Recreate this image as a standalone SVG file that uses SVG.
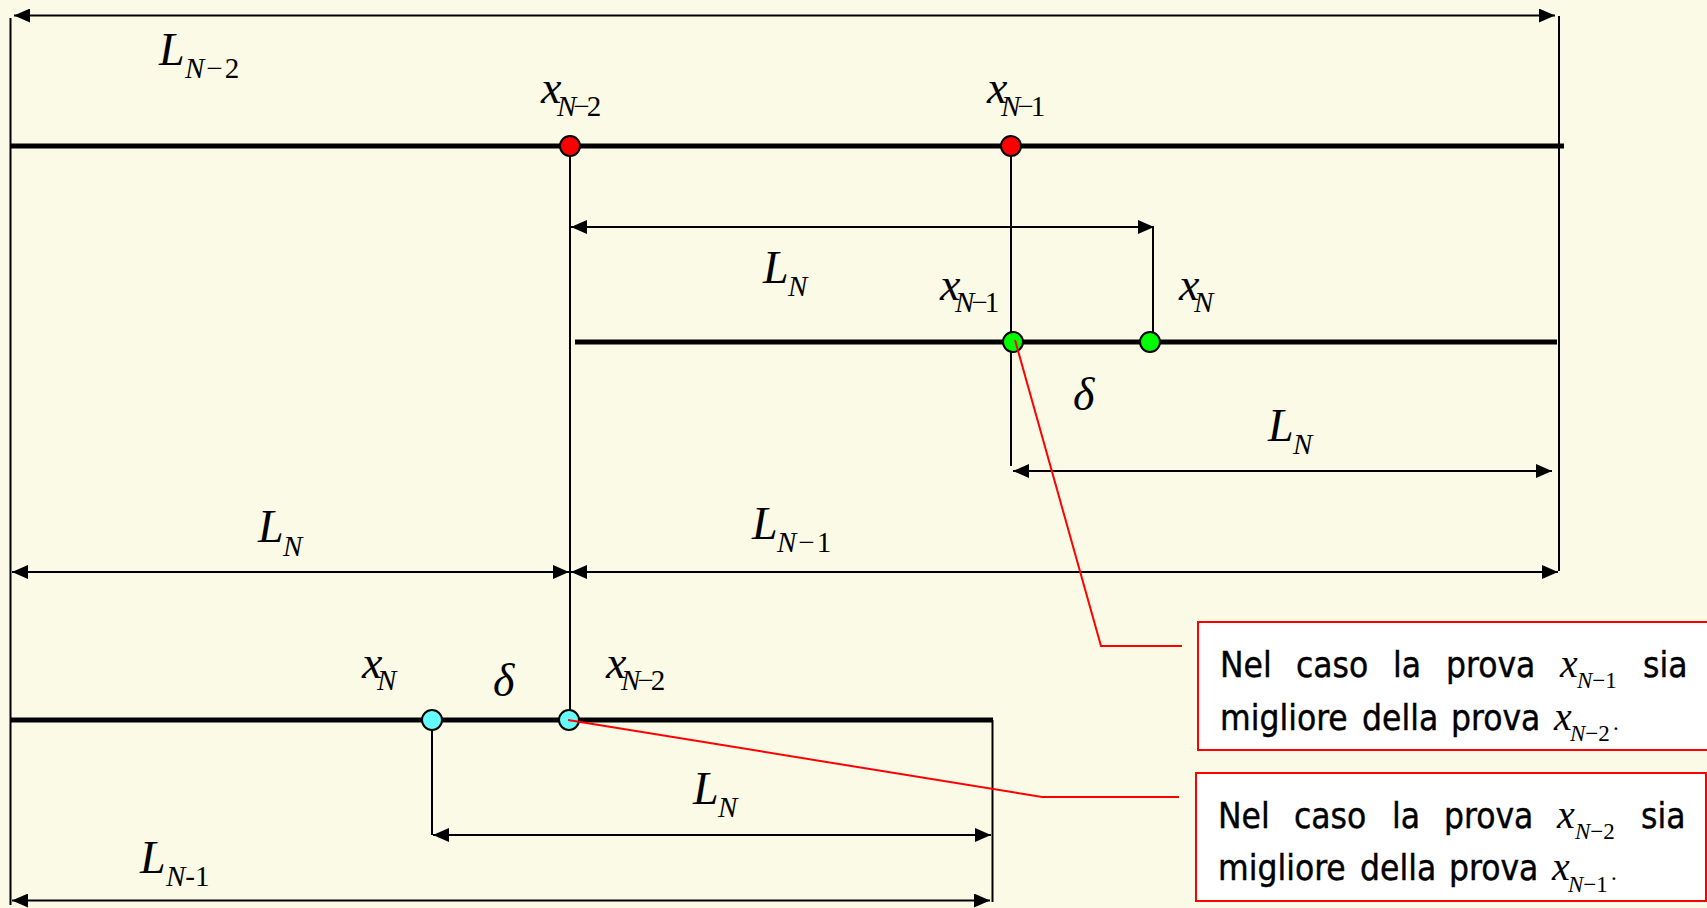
<svg xmlns="http://www.w3.org/2000/svg" width="1707" height="908" viewBox="0 0 1707 908">
<style>
.thick{stroke:#000;stroke-width:5;fill:none}
.thin{stroke:#000;stroke-width:2;fill:none}
.dim{stroke:#000;stroke-width:2;fill:none;marker-start:url(#ah);marker-end:url(#ah)}
.call{stroke:#f00;stroke-width:2;fill:none}
.box{fill:#fff;stroke:#f00;stroke-width:2}
.red{fill:#f00;stroke:#000;stroke-width:2}
.grn{fill:#0f0;stroke:#000;stroke-width:2}
.cyn{fill:#66ffff;stroke:#000;stroke-width:2}
.mi{font-family:'Liberation Serif','Times New Roman',serif;font-style:italic;font-size:46px;fill:#000}
.sb{font-style:normal;font-size:29px}
.i{font-style:italic}
.tight{letter-spacing:-3px}
.tx{font-family:'DejaVu Sans Condensed','DejaVu Sans',sans-serif;font-size:35px;fill:#000;stroke:#000;stroke-width:0.4}
.bm{font-family:'Liberation Serif','Times New Roman',serif;font-style:italic;font-size:40px;fill:#000}
.bs{font-style:normal;font-size:23px}
</style>
<defs>
<marker id="ah" viewBox="0 0 16 14" refX="16" refY="7" markerWidth="16" markerHeight="14" markerUnits="userSpaceOnUse" orient="auto-start-reverse">
<path d="M0,0 L16,7 L0,14 z" fill="#000"/>
</marker>
</defs>
<rect x="0" y="0" width="1707" height="908" fill="#fafae6"/>

<g id="connectors">
<line class="thin" x1="10.5" y1="18" x2="10.5" y2="905"/>
<line class="thin" x1="1559" y1="16" x2="1559" y2="571"/>
<line class="dim" x1="14" y1="15.5" x2="1555" y2="15.5"/>
<line class="thick" x1="10" y1="146" x2="1564" y2="146"/>
<line class="thin" x1="570" y1="146" x2="570" y2="720"/>
<line class="thin" x1="1011" y1="146" x2="1011" y2="466"/>
<line class="dim" x1="571" y1="227" x2="1154" y2="227"/>
<line class="thin" x1="1153" y1="227" x2="1153" y2="342"/>
<line class="thick" x1="575" y1="342" x2="1557" y2="342"/>
<line class="dim" x1="1013" y1="471" x2="1552" y2="471"/>
<line class="dim" x1="12" y1="572" x2="569" y2="572"/>
<line class="dim" x1="571" y1="572" x2="1558" y2="572"/>
<line class="thick" x1="10" y1="720" x2="993" y2="720"/>
<line class="thin" x1="432" y1="720" x2="432" y2="835"/>
<line class="thin" x1="992.5" y1="720" x2="992.5" y2="902"/>
<line class="dim" x1="433" y1="835" x2="991" y2="835"/>
<line class="dim" x1="12" y1="900.5" x2="990" y2="900.5"/>
</g>

<g id="labels">
<text class="mi" x="159" y="65">L<tspan class="sb" x="185" y="78" letter-spacing="2"><tspan class="i">N</tspan>−2</tspan></text>
<text class="mi" x="541" y="103">x<tspan class="sb tight" x="557" y="116"><tspan class="i">N</tspan>−2</tspan></text>
<text class="mi" x="987" y="103">x<tspan class="sb tight" x="1001" y="116"><tspan class="i">N</tspan>−1</tspan></text>
<text class="mi" x="763" y="283">L<tspan class="sb i" x="788" y="296">N</tspan></text>
<text class="mi" x="940" y="300">x<tspan class="sb tight" x="955" y="312"><tspan class="i">N</tspan>−1</tspan></text>
<text class="mi" x="1179" y="300">x<tspan class="sb i" x="1194" y="312">N</tspan></text>
<text class="mi" x="1073" y="410">δ</text>
<text class="mi" x="1268" y="441">L<tspan class="sb i" x="1293" y="454">N</tspan></text>
<text class="mi" x="258" y="542">L<tspan class="sb i" x="283" y="556">N</tspan></text>
<text class="mi" x="752" y="539">L<tspan class="sb" x="777" y="552" letter-spacing="2"><tspan class="i">N</tspan>−1</tspan></text>
<text class="mi" x="362" y="678">x<tspan class="sb i" x="377" y="690">N</tspan></text>
<text class="mi" x="493" y="696">δ</text>
<text class="mi" x="606" y="678">x<tspan class="sb tight" x="621" y="690"><tspan class="i">N</tspan>−2</tspan></text>
<text class="mi" x="693" y="804">L<tspan class="sb i" x="718" y="817">N</tspan></text>
<text class="mi" x="140" y="873">L<tspan class="sb" x="166" y="886"><tspan class="i">N</tspan>-1</tspan></text>
</g>

<g id="node-xN2-top"><circle class="red" cx="570" cy="146" r="10"/></g>
<g id="node-xN1-top"><circle class="red" cx="1011" cy="146" r="10"/></g>
<g id="node-xN1-mid"><circle class="grn" cx="1013" cy="342" r="10"/></g>
<g id="node-xN-mid"><circle class="grn" cx="1150" cy="342" r="10"/></g>
<g id="node-xN-bot"><circle class="cyn" cx="432" cy="720" r="10"/></g>
<g id="node-xN2-bot"><circle class="cyn" cx="569" cy="720" r="10"/></g>

<g id="callouts">
<polyline class="call" points="1015,340 1101,646 1182,646"/>
<polyline class="call" points="568,720 1042,797 1179,797"/>
</g>

<g id="note1">
<rect class="box" x="1198" y="622" width="520" height="128"/>
<text class="tx" x="1220" y="677">Nel</text>
<text class="tx" x="1296" y="677">caso</text>
<text class="tx" x="1393" y="677">la</text>
<text class="tx" x="1446" y="677">prova</text>
<text class="bm" x="1560" y="677">x<tspan class="bs" x="1577" y="688"><tspan class="i">N</tspan>−1</tspan></text>
<text class="tx" x="1643" y="677">sia</text>
<text class="tx" x="1220" y="730">migliore</text>
<text class="tx" x="1362" y="730">della</text>
<text class="tx" x="1451" y="730">prova</text>
<text class="bm" x="1554" y="730">x<tspan class="bs" x="1570" y="741"><tspan class="i">N</tspan>−2</tspan><tspan class="bs" x="1613" y="730">.</tspan></text>
</g>

<g id="note2">
<rect class="box" x="1196" y="773" width="510" height="128"/>
<text class="tx" x="1218" y="828">Nel</text>
<text class="tx" x="1294" y="828">caso</text>
<text class="tx" x="1392" y="828">la</text>
<text class="tx" x="1444" y="828">prova</text>
<text class="bm" x="1557" y="828">x<tspan class="bs" x="1575" y="839"><tspan class="i">N</tspan>−2</tspan></text>
<text class="tx" x="1641" y="828">sia</text>
<text class="tx" x="1218" y="880">migliore</text>
<text class="tx" x="1360" y="880">della</text>
<text class="tx" x="1449" y="880">prova</text>
<text class="bm" x="1552" y="880">x<tspan class="bs" x="1568" y="892"><tspan class="i">N</tspan>−1</tspan><tspan class="bs" x="1611" y="880">.</tspan></text>
</g>
</svg>
